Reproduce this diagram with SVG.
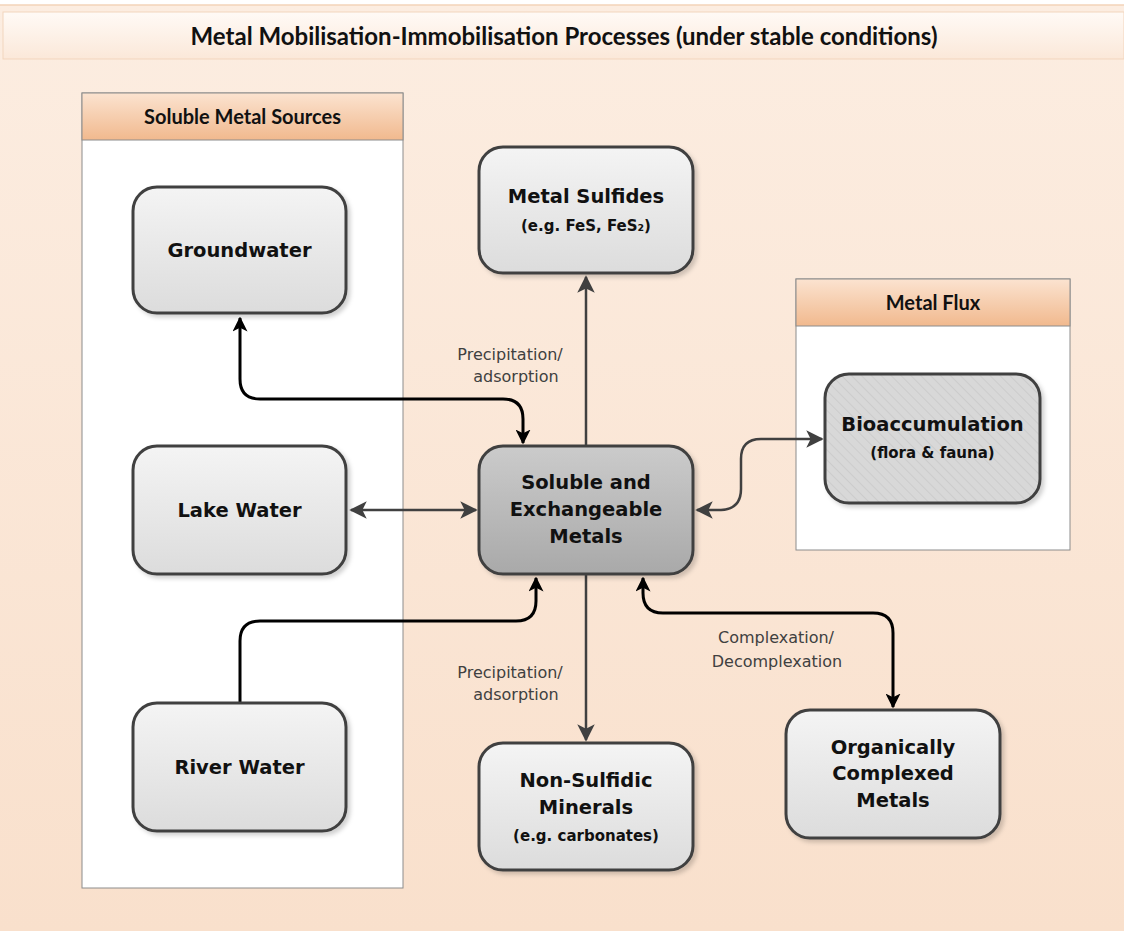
<svg xmlns="http://www.w3.org/2000/svg" width="1124" height="936" viewBox="0 0 1124 936">
  <defs>
    <linearGradient id="bg" x1="0" y1="0" x2="0" y2="1">
      <stop offset="0" stop-color="#fcede1"/>
      <stop offset="1" stop-color="#f9e0cc"/>
    </linearGradient>
    <linearGradient id="titleBar" x1="0" y1="0" x2="0" y2="1">
      <stop offset="0" stop-color="#fffaf6"/>
      <stop offset="1" stop-color="#fbe8d9"/>
    </linearGradient>
    <linearGradient id="header" x1="0" y1="0" x2="0" y2="1">
      <stop offset="0" stop-color="#fbe3d0"/>
      <stop offset="1" stop-color="#f1b98e"/>
    </linearGradient>
    <linearGradient id="lightNode" x1="0" y1="0" x2="0" y2="1">
      <stop offset="0" stop-color="#f4f4f4"/>
      <stop offset="1" stop-color="#dcdcdc"/>
    </linearGradient>
    <linearGradient id="darkNode" x1="0" y1="0" x2="0" y2="1">
      <stop offset="0" stop-color="#cbcbcb"/>
      <stop offset="1" stop-color="#a9a9a9"/>
    </linearGradient>
    <pattern id="hatch" width="7" height="7" patternUnits="userSpaceOnUse" patternTransform="rotate(-45)">
      <rect width="7" height="7" fill="#d8d8d8"/>
      <line x1="0" y1="0" x2="0" y2="7" stroke="#c4c4c4" stroke-width="1.2"/>
    </pattern>
    <filter id="shadow" x="-10%" y="-10%" width="125%" height="125%">
      <feDropShadow dx="3" dy="3" stdDeviation="2" flood-color="#000" flood-opacity="0.18"/>
    </filter>
    <marker id="arrowBlack" viewBox="0 0 10 10" refX="9" refY="5" markerWidth="5" markerHeight="5" orient="auto-start-reverse" markerUnits="strokeWidth">
      <path d="M0,0 L10,5 L0,10 L2.5,5 Z" fill="#000"/>
    </marker>
    <marker id="arrowGrey" viewBox="0 0 10 10" refX="9" refY="5" markerWidth="7" markerHeight="7" orient="auto-start-reverse" markerUnits="strokeWidth">
      <path d="M0,0 L10,5 L0,10 L2.5,5 Z" fill="#404040"/>
    </marker>
  </defs>
  <style>
    .title { font-family: Lato, "Liberation Sans", sans-serif; font-weight: bold; font-size: 24px; fill: #111; }
    .head { font-family: Lato, "Liberation Sans", sans-serif; font-weight: bold; font-size: 20px; fill: #111; }
    .panel { fill: #ffffff; stroke: #8c8c8c; stroke-width: 1; }
    .node { stroke: #404040; stroke-width: 3; filter: url(#shadow); }
    .nt { font-family: "DejaVu Sans", sans-serif; font-weight: bold; font-size: 19.5px; fill: #111; text-anchor: middle; }
    .ns { font-family: "DejaVu Sans", sans-serif; font-weight: bold; font-size: 15px; fill: #111; text-anchor: middle; }
    .lbl { font-family: "DejaVu Sans", sans-serif; font-size: 16px; fill: #404040; text-anchor: middle; }
    .cb { fill: none; stroke: #000; stroke-width: 3; marker-end: url(#arrowBlack); }
    .both { marker-start: url(#arrowBlack); }
    .cg { fill: none; stroke: #404040; stroke-width: 2.5; marker-end: url(#arrowGrey); }
    .cg.both { marker-start: url(#arrowGrey); }
  </style>

  <!-- backdrop and title -->
  <rect x="0" y="5" width="1124" height="926" fill="url(#bg)"/>
  <line x1="0" y1="5" x2="1124" y2="5" stroke="#f3d3b9" stroke-width="1.5"/>
  <rect x="3" y="12" width="1121" height="47" fill="url(#titleBar)" stroke="#f2d5bd" stroke-width="1"/>
  <text class="title" x="564" y="45" text-anchor="middle">Metal Mobilisation-Immobilisation Processes (under stable conditions)</text>

  <!-- container: soluble metal sources -->
  <g id="panel-sources">
    <rect class="panel" x="82" y="93" width="321" height="795"/>
    <rect x="82" y="93" width="321" height="47" fill="url(#header)" stroke="#8c8c8c" stroke-width="1"/>
    <text class="head" x="242.5" y="124" text-anchor="middle">Soluble Metal Sources</text>
  </g>

  <!-- container: metal flux -->
  <g id="panel-flux">
    <rect class="panel" x="796" y="279" width="274" height="271"/>
    <rect x="796" y="279" width="274" height="47" fill="url(#header)" stroke="#8c8c8c" stroke-width="1"/>
    <text class="head" x="933" y="310" text-anchor="middle">Metal Flux</text>
  </g>

  <!-- connectors -->
  <g id="connectors">
    <path class="cb both" d="M240,318 V379 Q240,399 260,399 H503 Q523,399 523,419 V443"/>
    <path class="cg both" d="M351,510 H476"/>
    <path class="cb" d="M240,703 V641 Q240,621 260,621 H516 Q536,621 536,601 V578"/>
    <path class="cg" d="M586,446 V277"/>
    <path class="cg" d="M586,574 V740"/>
    <path class="cb both" d="M643,578 V593 Q643,613 663,613 H873 Q893,613 893,633 V707"/>
    <path class="cg both" d="M697,510 H721 Q741,509 741,489 V459 Q741,439 761,439 H822"/>
    <text class="lbl" x="510" y="360">Precipitation/</text>
    <text class="lbl" x="516" y="382">adsorption</text>
    <text class="lbl" x="510" y="678">Precipitation/</text>
    <text class="lbl" x="516" y="700">adsorption</text>
    <text class="lbl" x="776" y="643">Complexation/</text>
    <text class="lbl" x="777" y="667">Decomplexation</text>
  </g>

  <g id="groundwater">
    <rect class="node" x="133" y="187" width="213" height="126" rx="24" fill="url(#lightNode)"/>
    <text class="nt" x="239.5" y="257">Groundwater</text>
  </g>

  <g id="lake-water">
    <rect class="node" x="133" y="446" width="213" height="128" rx="24" fill="url(#lightNode)"/>
    <text class="nt" x="239.5" y="517">Lake Water</text>
  </g>

  <g id="river-water">
    <rect class="node" x="133" y="703" width="213" height="128" rx="24" fill="url(#lightNode)"/>
    <text class="nt" x="239.5" y="774">River Water</text>
  </g>

  <g id="metal-sulfides">
    <rect class="node" x="479" y="147" width="214" height="126" rx="24" fill="url(#lightNode)"/>
    <text class="nt" x="586" y="203">Metal Sulfides</text>
    <text class="ns" x="586" y="231">(e.g. FeS, FeS₂)</text>
  </g>

  <g id="soluble-exchangeable">
    <rect class="node" x="479" y="446" width="214" height="128" rx="24" fill="url(#darkNode)"/>
    <text class="nt" x="586" y="489">Soluble and</text>
    <text class="nt" x="586" y="516">Exchangeable</text>
    <text class="nt" x="586" y="543">Metals</text>
  </g>

  <g id="non-sulfidic">
    <rect class="node" x="479" y="743" width="214" height="127" rx="24" fill="url(#lightNode)"/>
    <text class="nt" x="586" y="787">Non-Sulfidic</text>
    <text class="nt" x="586" y="814">Minerals</text>
    <text class="ns" x="586" y="841">(e.g. carbonates)</text>
  </g>

  <g id="organically-complexed">
    <rect class="node" x="786" y="710" width="214" height="128" rx="24" fill="url(#lightNode)"/>
    <text class="nt" x="893" y="754">Organically</text>
    <text class="nt" x="893" y="780">Complexed</text>
    <text class="nt" x="893" y="807">Metals</text>
  </g>

  <g id="bioaccumulation">
    <rect class="node" x="825" y="374" width="215" height="129" rx="24" fill="url(#hatch)"/>
    <text class="nt" x="932.5" y="431">Bioaccumulation</text>
    <text class="ns" x="932.5" y="458">(flora &amp; fauna)</text>
  </g>
</svg>
